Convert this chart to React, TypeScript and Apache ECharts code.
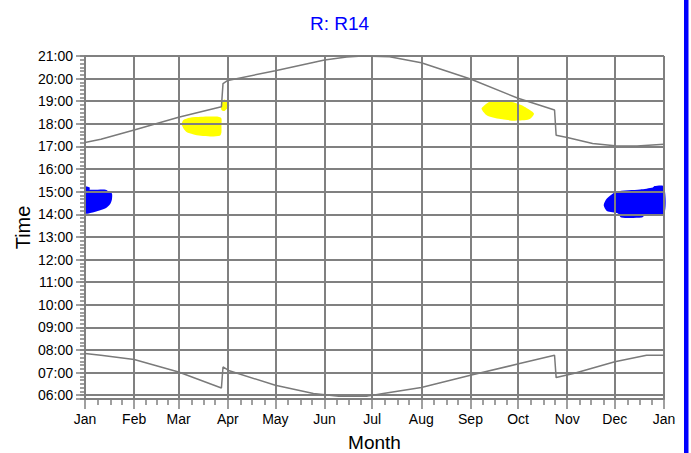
import React, { useEffect, useRef } from 'react';
import * as echarts from 'echarts';

const MONTH_LABELS = ['Jan', 'Feb', 'Mar', 'Apr', 'May', 'Jun', 'Jul', 'Aug', 'Sep', 'Oct', 'Nov', 'Dec', 'Jan'];
const MONTH_STARTS = [0, 31, 59, 90, 120, 151, 181, 212, 243, 273, 304, 334, 365];

const SUNSET_DAYS = [0, 10, 31, 59, 86, 87, 90, 120, 151, 165, 175, 192, 212, 243, 273, 296, 297, 304, 320, 334, 348, 365];
const SUNSET_HOURS = [17.18, 17.32, 17.73, 18.29, 18.76, 19.78, 19.92, 20.35, 20.82, 20.96, 21.0, 20.97, 20.7, 19.98, 19.13, 18.61, 17.5, 17.4, 17.13, 17.03, 17.02, 17.1];

const SUNRISE_DAYS = [0, 10, 31, 59, 86, 87, 91, 120, 144, 160, 178, 188, 212, 243, 274, 296, 297, 308, 334, 354, 365];
const SUNRISE_HOURS = [7.85, 7.77, 7.58, 7.03, 6.32, 7.25, 7.08, 6.44, 6.08, 5.96, 5.96, 6.08, 6.34, 6.88, 7.4, 7.77, 6.78, 6.96, 7.48, 7.77, 7.77];

const YELLOW_MAR_DAYS = [61.3, 62.4, 66.2, 72.5, 78.8, 83.8, 86.2, 86.4, 86.2, 84.5, 78.8, 72.5, 67.5, 63.7, 61.8];
const YELLOW_MAR_HOURS = [17.99, 18.17, 18.27, 18.31, 18.32, 18.31, 18.24, 17.95, 17.62, 17.47, 17.44, 17.47, 17.54, 17.64, 17.8];

const YELLOW_APR_DAYS = [88.3, 90.8, 87.8, 85.7, 86.2];
const YELLOW_APR_HOURS = [19.08, 18.83, 18.57, 18.61, 18.91];

const YELLOW_SEP_DAYS = [250.1, 255.3, 262.7, 271.1, 277.4, 282.6, 279.5, 271.1, 262.7, 254.2, 250.5];
const YELLOW_SEP_HOURS = [18.69, 18.98, 19.05, 18.93, 18.76, 18.46, 18.2, 18.14, 18.2, 18.35, 18.54];

const BLUE_JAN_DAYS = [0.3, 3.2, 3.2, 12.6, 14.5, 17.2, 17.2, 15.8, 12.6, 8.2, 4.4, 0.3];
const BLUE_JAN_HOURS = [15.22, 15.18, 15.09, 15.09, 15.0, 14.92, 14.67, 14.47, 14.27, 14.15, 14.07, 14.04];

const BLUE_DEC_DAYS = [326.7, 328.9, 335.2, 349.9, 358.3, 359.3, 365, 365, 353.0, 350.9, 338.3, 336.2, 328.9];
const BLUE_DEC_HOURS = [14.41, 14.7, 15.0, 15.1, 15.19, 15.25, 15.23, 14.01, 13.96, 13.86, 13.86, 14.04, 14.15];

const FONT = 'Liberation Sans, Arial, sans-serif';
const GRID_COLOR = '#808080';

export default function App() {
  const ref = useRef<HTMLDivElement>(null);

  useEffect(() => {
    document.body.style.margin = '0';
    const chart = echarts.init(ref.current as HTMLDivElement, null, { renderer: 'svg' });

    const dayCats = Array.from({ length: 366 }, (_, i) => String(i));
    const monthSet = new Set(MONTH_STARTS);
    const quarterSet = new Set<number>();
    for (let m = 0; m < 12; m++) {
      const s = MONTH_STARTS[m];
      const L = MONTH_STARTS[m + 1] - s;
      for (let k = 1; k <= 3; k++) quarterSet.add(s + Math.round((L * k) / 4));
    }
    const monthIdx = (i: number) => MONTH_STARTS.indexOf(i);

    const blobs = [
      { days: YELLOW_MAR_DAYS, hours: YELLOW_MAR_HOURS, color: '#ffff00' },
      { days: YELLOW_APR_DAYS, hours: YELLOW_APR_HOURS, color: '#ffff00' },
      { days: YELLOW_SEP_DAYS, hours: YELLOW_SEP_HOURS, color: '#ffff00' },
      { days: BLUE_JAN_DAYS, hours: BLUE_JAN_HOURS, color: '#0000ff' },
      { days: BLUE_DEC_DAYS, hours: BLUE_DEC_HOURS, color: '#0000ff' },
    ];

    const gridPos = { left: 85, right: 27, top: 56, bottom: 54, outerBoundsMode: 'none', containLabel: false };
    const yMin = 35 / 6;

    const option: any = {
      animation: false,
      textStyle: { fontFamily: FONT },
      title: {
        text: 'R: R14',
        left: 305,
        top: 9,
        textStyle: { color: '#0000ff', fontSize: 19, fontWeight: 'normal', fontFamily: FONT },
      },
      grid: [
        { ...gridPos },
        { ...gridPos },
      ],
      xAxis: [
        {
          type: 'category',
          gridIndex: 0,
          data: dayCats,
          boundaryGap: false,
          name: 'Month',
          nameLocation: 'middle',
          nameGap: 34,
          nameMoveOverlap: false,
          nameTextStyle: { fontSize: 19, color: '#000', fontFamily: FONT, lineHeight: 19 },
          axisLine: { show: true, lineStyle: { color: GRID_COLOR, width: 2 } },
          axisTick: {
            show: true,
            interval: (i: number) => monthSet.has(i),
            length: 10,
            lineStyle: { color: GRID_COLOR, width: 1.5 },
          },
          axisLabel: {
            interval: (i: number) => monthSet.has(i),
            formatter: (_v: string, i: number) => {
              const k = monthIdx(i);
              return k >= 0 ? MONTH_LABELS[k] : '';
            },
            color: '#000',
            fontSize: 14,
            margin: 13,
            fontFamily: FONT,
          },
          splitLine: {
            show: true,
            interval: (i: number) => monthSet.has(i),
            lineStyle: { color: GRID_COLOR, width: 2 },
          },
        },
        {
          type: 'category',
          gridIndex: 1,
          data: dayCats,
          boundaryGap: false,
          axisLine: { show: false },
          axisTick: {
            show: true,
            interval: (i: number) => quarterSet.has(i),
            length: 6,
            lineStyle: { color: GRID_COLOR, width: 1.5 },
          },
          axisLabel: { show: false },
          splitLine: { show: false },
        },
      ],
      yAxis: [
        {
          type: 'value',
          gridIndex: 0,
          min: yMin,
          max: 21,
          splitNumber: 15,
          minInterval: 1,
          maxInterval: 1,
          name: 'Time',
          nameLocation: 'middle',
          nameGap: 52,
          nameMoveOverlap: false,
          nameTextStyle: { fontSize: 20, color: '#000', fontFamily: FONT },
          axisLine: { show: true, lineStyle: { color: GRID_COLOR, width: 2 } },
          axisTick: { show: true, length: 9, lineStyle: { color: GRID_COLOR, width: 1.5 } },
          axisLabel: {
            color: '#000',
            fontSize: 14,
            margin: 12,
            fontFamily: FONT,
            formatter: (v: number) => {
              const r = Math.round(v);
              if (Math.abs(v - r) > 1e-6) return '';
              return (r < 10 ? '0' : '') + r + ':00';
            },
          },
          splitLine: { show: true, lineStyle: { color: GRID_COLOR, width: 2 } },
        },
        {
          type: 'value',
          gridIndex: 1,
          min: yMin,
          max: 21,
          interval: 1 / 6,
          axisLine: { show: false },
          axisTick: { show: true, length: 5, lineStyle: { color: GRID_COLOR, width: 1.5 } },
          axisLabel: { show: false },
          splitLine: { show: false },
        },
      ],
      series: [
        {
          type: 'custom',
          xAxisIndex: 0,
          yAxisIndex: 0,
          z: -1,
          silent: true,
          data: blobs.map((b) => [b.days[0], b.hours[0]]),
          renderItem: (params: any, api: any) => {
            const b = blobs[params.dataIndex];
            const pts = b.days.map((d, k) => api.coord([d, b.hours[k]]));
            return {
              type: 'polygon',
              shape: { points: pts, smooth: 0.25 },
              style: { fill: b.color, stroke: null },
            };
          },
        },
        {
          type: 'line',
          xAxisIndex: 0,
          yAxisIndex: 0,
          showSymbol: false,
          lineStyle: { color: '#7a7a7a', width: 1.5 },
          data: SUNSET_DAYS.map((d, i) => [d, SUNSET_HOURS[i]]),
        },
        {
          type: 'line',
          xAxisIndex: 0,
          yAxisIndex: 0,
          showSymbol: false,
          lineStyle: { color: '#7a7a7a', width: 1.5 },
          data: SUNRISE_DAYS.map((d, i) => [d, SUNRISE_HOURS[i]]),
        },
      ],
      graphic: [
        {
          type: 'rect',
          shape: { x: 684, y: 0, width: 4.5, height: 453 },
          style: { fill: '#0000ff' },
          silent: true,
        },
      ],
    };

    chart.setOption(option);
    return () => chart.dispose();
  }, []);

  return <div ref={ref} style={{ width: 691, height: 453 }} />;
}
